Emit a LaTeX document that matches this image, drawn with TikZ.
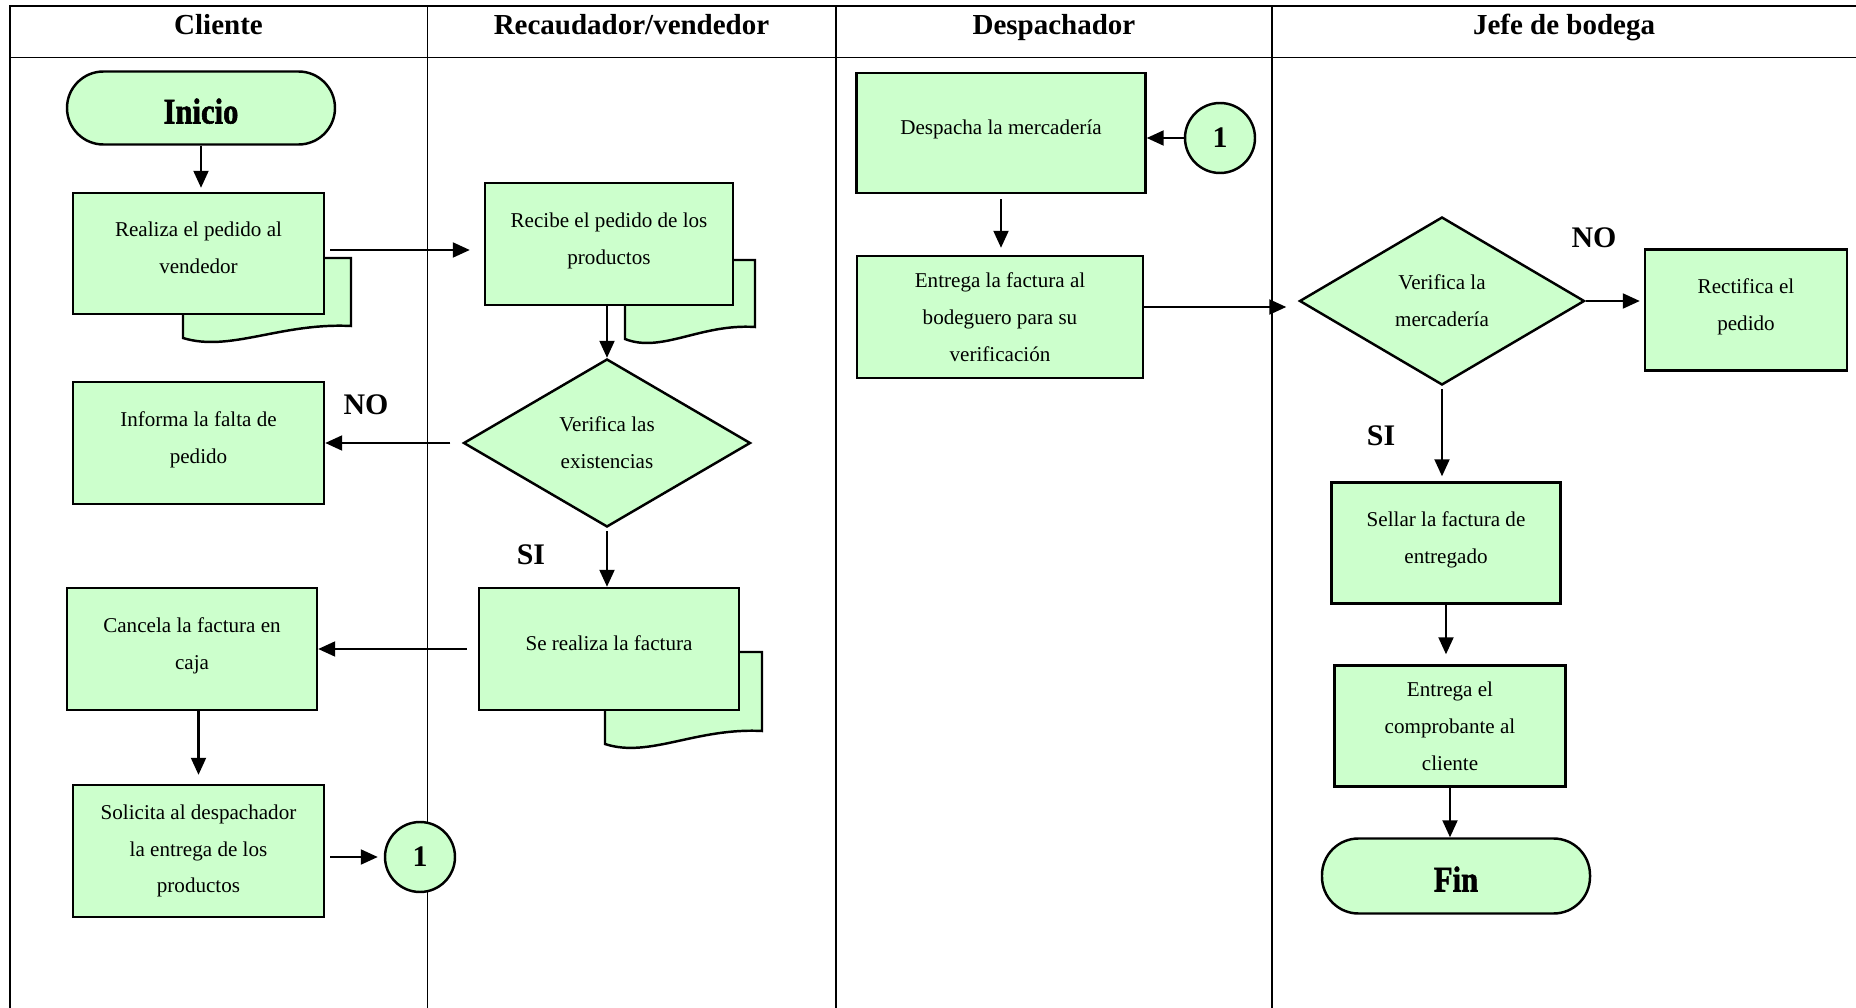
\documentclass[tikz,border=0pt]{standalone}
\usepackage{fontspec}
\setmainfont{Liberation Serif}
\newfontfamily\termfont{Liberation Serif}[FakeStretch=0.85,FakeBold=1.5]
\usepackage{tikz}
\usetikzlibrary{positioning}
\usetikzlibrary{shapes.geometric}
\usetikzlibrary{arrows.meta}
\definecolor{flowgreen}{RGB}{204,255,204}

\tikzset{
  >={Triangle[length=0.34cm,width=0.30cm]},
  lane/.style={line width=1.1pt},
  proc/.style={draw, line width=1.4pt, fill=flowgreen, align=center, inner sep=2pt,
    font=\fontsize{12}{21}\selectfont},
  lift/.style={text depth=0.22cm},
  decision/.style={proc, diamond, inner sep=0pt},
  terminal/.style={draw, line width=1.4pt, fill=flowgreen, rounded corners=0.73cm,
    text height=0.62cm, text depth=0pt,
    font=\termfont\bfseries\fontsize{20.5}{20.5}\selectfont},
  link/.style={draw, circle, line width=1.4pt, fill=flowgreen, minimum size=1.40cm,
    inner sep=0pt, font=\bfseries\fontsize{17}{17}\selectfont},
  sheet/.style={draw, line width=1.4pt, fill=flowgreen},
  flow/.style={->, line width=1.2pt},
  answer/.style={font=\bfseries\fontsize{17}{17}\selectfont},
  lanehead/.style={anchor=base, font=\bfseries\fontsize{16.5}{16.5}\selectfont},
}

\begin{document}
\begin{tikzpicture}
\useasboundingbox (0,0) rectangle (37.12,-20.16);

% carriles
\draw[lane] (37.12,-0.12) -- (0.20,-0.12) -- (0.20,-20.16);
\draw[lane] (0.20,-1.15) -- (37.12,-1.15);
\foreach \x in {8.55,16.72,25.44}
  \draw[lane] (\x,-0.12) -- (\x,-20.16);
\node[lanehead] (hcliente) at (4.37,-0.69) {Cliente};
\node[lanehead] (hrecaudador) at (12.63,-0.69) {Recaudador/vendedor};
\node[lanehead] (hdespachador) at (21.08,-0.69) {Despachador};
\node[lanehead] (hjefe) at (31.28,-0.69) {Jefe de bodega};

% hojas de atras (documentos multiples)
\draw[sheet] (3.66,-5.16) -- (7.02,-5.16) -- (7.02,-6.52)
  .. controls (5.61,-6.45) and (4.60,-7.05) .. (3.66,-6.76) -- cycle;
\draw[sheet] (12.50,-5.20) -- (15.10,-5.20) -- (15.10,-6.54)
  .. controls (14.01,-6.47) and (13.23,-7.07) .. (12.50,-6.78) -- cycle;
\draw[sheet] (12.10,-13.04) -- (15.24,-13.04) -- (15.24,-14.62)
  .. controls (13.92,-14.55) and (12.98,-15.17) .. (12.10,-14.88) -- cycle;

% Cliente
\node[terminal, minimum width=5.36cm, minimum height=1.46cm] (inicio) at (4.02,-2.16) {Inicio};
\node[proc, lift, minimum width=5.02cm, minimum height=2.42cm] (realiza) at (3.97,-5.07) {Realiza el pedido al\\vendedor};
\node[proc, lift, minimum width=5.02cm, minimum height=2.44cm] (informa) at (3.97,-8.86) {Informa la falta de\\pedido};
\node[proc, lift, minimum width=5.00cm, minimum height=2.44cm] (cancela) at (3.84,-12.98) {Cancela la factura en\\caja};
\node[proc, minimum width=5.02cm, minimum height=2.64cm] (solicita) at (3.97,-17.02) {Solicita al despachador\\la entrega de los\\productos};
\node[link] (enlacea) at (8.40,-17.14) {1};

% Recaudador/vendedor
\node[proc, lift, minimum width=4.96cm, minimum height=2.44cm] (recibe) at (12.18,-4.88) {Recibe el pedido de los\\productos};
\node[decision, minimum width=5.74cm, minimum height=3.36cm] (existencias) at (12.14,-8.86) {Verifica las\\existencias};
\node[proc, lift, minimum width=5.20cm, minimum height=2.44cm] (factura) at (12.18,-12.98) {Se realiza la factura};
\node[answer] (no1) at (7.32,-8.10) {NO};
\node[answer] (si1) at (10.62,-11.10) {SI};

% Despachador
\node[proc, lift, minimum width=5.78cm, minimum height=2.40cm] (despacha) at (20.02,-2.66) {Despacha la mercadería};
\node[link] (enlaceb) at (24.40,-2.76) {1};
\node[proc, minimum width=5.72cm, minimum height=2.44cm] (entrega) at (20.00,-6.34) {Entrega la factura al\\bodeguero para su\\verificación};

% Jefe de bodega
\node[decision, minimum width=5.70cm, minimum height=3.36cm] (mercaderia) at (28.84,-6.02) {Verifica la\\mercadería};
\node[proc, lift, minimum width=4.04cm, minimum height=2.42cm] (rectifica) at (34.92,-6.20) {Rectifica el\\pedido};
\node[proc, lift, minimum width=4.58cm, minimum height=2.42cm] (sellar) at (28.92,-10.86) {Sellar la factura de\\entregado};
\node[proc, minimum width=4.62cm, minimum height=2.42cm] (comprobante) at (29.00,-14.52) {Entrega el\\comprobante al\\cliente};
\node[terminal, minimum width=5.36cm, minimum height=1.50cm] (fin) at (29.12,-17.52) {Fin};
\node[answer] (no2) at (31.88,-4.76) {NO};
\node[answer] (si2) at (27.62,-8.72) {SI};

% flechas
\draw[flow, shorten >=0.08cm] (inicio.south) -- (inicio.south |- realiza.north);
\draw[flow, shorten <=0.1cm, shorten >=0.28cm] ([yshift=0.07cm]realiza.east) -- ([yshift=0.07cm]realiza.east -| recibe.west);
\draw[flow] (existencias.north |- recibe.south) -- (existencias.north);
\draw[flow, shorten <=0.24cm] (existencias.west) -- (existencias.west -| informa.east);
\draw[flow, shorten <=0.06cm] (existencias.south) -- (existencias.south |- factura.north);
\draw[flow, shorten <=0.22cm] (factura.west) -- (factura.west -| cancela.east);
\draw[flow, shorten >=0.18cm] (solicita.north |- cancela.south) -- (solicita.north);
\draw[flow, shorten <=0.1cm, shorten >=0.12cm] (solicita.east |- enlacea.west) -- (enlacea.west);
\draw[flow] (enlaceb.west) -- (enlaceb.west -| despacha.east);
\draw[flow, shorten <=0.1cm, shorten >=0.14cm] (despacha.south) -- (despacha.south |- entrega.north);
\draw[flow, shorten >=0.24cm] ([yshift=0.2cm]entrega.east) -- ([yshift=0.2cm]entrega.east -| mercaderia.west);
\draw[flow, shorten >=0.08cm] (mercaderia.east) -- (mercaderia.east -| rectifica.west);
\draw[flow, shorten <=0.06cm, shorten >=0.1cm] (mercaderia.south) -- (mercaderia.south |- sellar.north);
\draw[flow, shorten >=0.2cm] (sellar.south) -- (sellar.south |- comprobante.north);
\draw[flow] (comprobante.south) -- (comprobante.south |- fin.north);
\end{tikzpicture}
\end{document}
